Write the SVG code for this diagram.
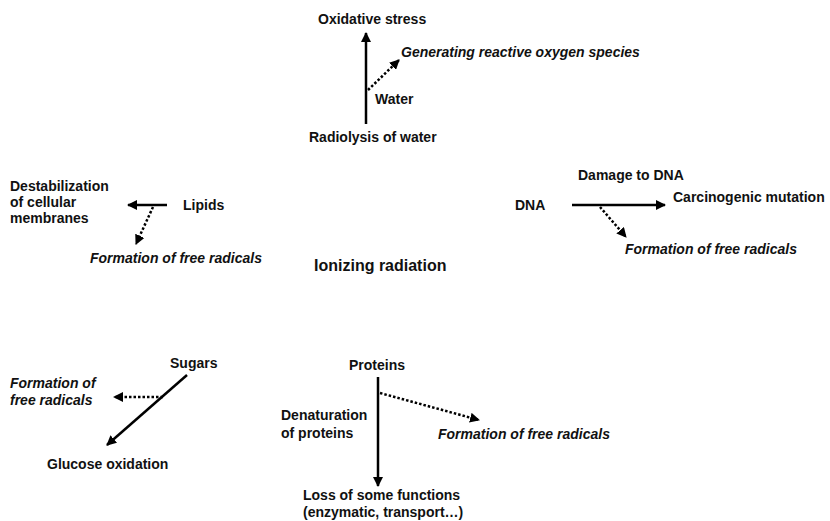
<svg xmlns="http://www.w3.org/2000/svg" width="830" height="521" viewBox="0 0 830 521">
  <style>
    text { font-family: "Liberation Sans", Arial, sans-serif; font-weight: bold; font-size: 14px; fill: #111; }
    .it { font-style: italic; }
    .title { font-size: 16px; }
    .solid { stroke: #000; stroke-width: 2.5; fill: none; }
    .dot { stroke: #000; stroke-width: 2.5; fill: none; stroke-dasharray: 2.5 2; }
  </style>
  <defs>
    <marker id="head" viewBox="0 0 10 10" refX="9" refY="5" markerWidth="4" markerHeight="4" orient="auto" markerUnits="strokeWidth">
      <path d="M0,0 L10,5 L0,10 z" fill="#000"/>
    </marker>
  </defs>
  <rect width="830" height="521" fill="#fff"/>

  <g id="center">
    <text class="title" x="314" y="271">Ionizing radiation</text>
  </g>

  <g id="water">
    <text x="318" y="24">Oxidative stress</text>
    <text class="it" x="401" y="57">Generating reactive oxygen species</text>
    <text x="375" y="104">Water</text>
    <text x="309" y="142">Radiolysis of water</text>
  </g>

  <g id="lipids">
    <text x="183" y="210">Lipids</text>
    <text x="10" y="191">Destabilization</text>
    <text x="10" y="207">of cellular</text>
    <text x="10" y="223">membranes</text>
    <text class="it" x="90" y="263">Formation of free radicals</text>
  </g>

  <g id="dna">
    <text x="515" y="210">DNA</text>
    <text x="578" y="180">Damage to DNA</text>
    <text x="673" y="202">Carcinogenic mutation</text>
    <text class="it" x="625" y="254">Formation of free radicals</text>
  </g>

  <g id="sugars">
    <text x="170" y="368">Sugars</text>
    <text class="it" x="10" y="388">Formation of</text>
    <text class="it" x="10" y="405">free radicals</text>
    <text x="47" y="469">Glucose oxidation</text>
  </g>

  <g id="proteins">
    <text x="349" y="370">Proteins</text>
    <text x="281" y="420">Denaturation</text>
    <text x="281" y="438">of proteins</text>
    <text class="it" x="438" y="439">Formation of free radicals</text>
    <text x="303" y="500">Loss of some functions</text>
    <text x="303" y="517">(enzymatic, transport…)</text>
  </g>

  <g id="connectors">
    <line class="solid" x1="366" y1="124" x2="366" y2="33" marker-end="url(#head)"/>
    <line class="dot" x1="368" y1="90" x2="399" y2="60" marker-end="url(#head)"/>
    <line class="solid" x1="167" y1="205" x2="128" y2="205" marker-end="url(#head)"/>
    <line class="dot" x1="153" y1="207" x2="136" y2="244" marker-end="url(#head)"/>
    <line class="solid" x1="572" y1="205" x2="665" y2="205" marker-end="url(#head)"/>
    <line class="dot" x1="600" y1="207" x2="626" y2="237" marker-end="url(#head)"/>
    <line class="solid" x1="187" y1="375" x2="107" y2="445" marker-end="url(#head)"/>
    <line class="dot" x1="163" y1="397" x2="114" y2="397" marker-end="url(#head)"/>
    <line class="solid" x1="378" y1="377" x2="378" y2="486" marker-end="url(#head)"/>
    <line class="dot" x1="380" y1="393" x2="479" y2="420" marker-end="url(#head)"/>
  </g>
</svg>
